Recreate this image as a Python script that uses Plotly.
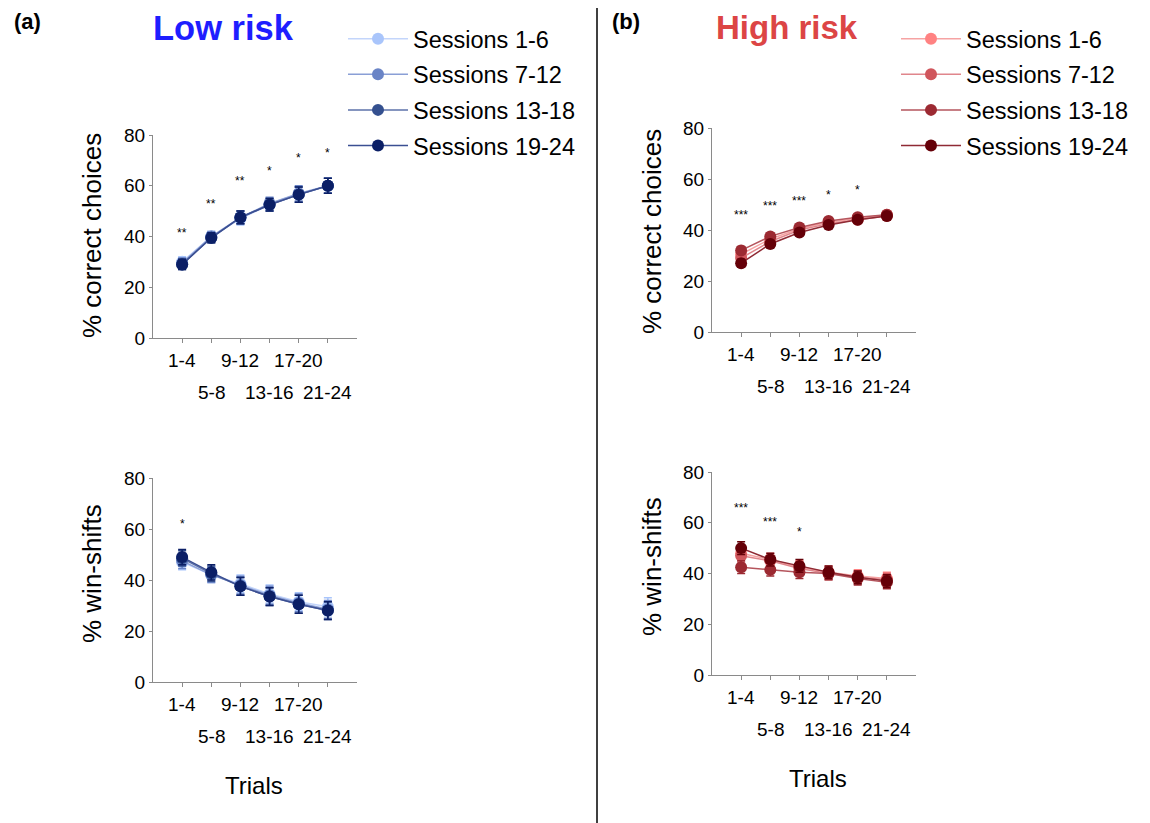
import plotly.graph_objects as go

W, H = 1150, 823

# ---------------- data ----------------
trial_labels = ["1-4", "5-8", "9-12", "13-16", "17-20", "21-24"]
session_names = ["Sessions 1-6", "Sessions 7-12", "Sessions 13-18", "Sessions 19-24"]

# (a) Low risk, % correct choices
low_correct = [
    [30, 40, 47, 52.5, 56.5, 60],
    [29.5, 40, 47.5, 53, 57, 60],
    [29, 39.5, 47.5, 52.5, 56.5, 60],
    [29, 39.5, 47.5, 52.5, 56.5, 60],
]
low_correct_err = [2, 2, 2.5, 2.5, 3, 3]
low_correct_stars = ["**", "**", "**", "*", "*", "*"]
low_correct_star_y = [42.5, 54, 63, 67, 72, 74]

# (b) High risk, % correct choices
high_correct = [
    [30.5, 36.5, 40.5, 43, 44.5, 46],
    [29, 35.5, 40, 42.5, 44, 45.5],
    [32, 37.5, 41, 43.5, 45, 46],
    [27, 34.5, 39, 42, 44, 45.5],
]
high_correct_err = [1.5, 1.2, 1, 1, 1, 1]
high_correct_stars = ["***", "***", "***", "*", "*"]
high_correct_star_y = [47, 50.5, 52.5, 55, 57]

# (c) Low risk, % win-shifts
low_ws = [
    [47, 42, 38.5, 34.5, 31.5, 29.5],
    [47.5, 42, 38, 34, 31, 28.5],
    [48.5, 42.5, 37.5, 33.5, 30.5, 28],
    [49, 43, 37.5, 33.5, 30.5, 28],
]
low_ws_err = [3, 3, 3.5, 3.5, 3.5, 3.5]
low_ws_stars = ["*"]
low_ws_star_y = [63]

# (d) High risk, % win-shifts
high_ws = [
    [48, 45.5, 42.5, 40.5, 39, 38],
    [47, 45, 42, 40, 38.5, 37.5],
    [42.5, 41.5, 40.5, 40, 38, 36.5],
    [50, 45.5, 43, 40.5, 38.5, 37],
]
high_ws_err = [2.5, 2.5, 2.5, 2.5, 2.5, 2.5]
high_ws_stars = ["***", "***", "*"]
high_ws_star_y = [67, 61.5, 57.5]

y_ticks = [0, 20, 40, 60, 80]

# ---------------- styles ----------------
FONT = "Liberation Sans, Arial, Helvetica, sans-serif"
blue_marker = ["#a9c5fb", "#6a84c6", "#34508f", "#0b1f66"]
blue_line = ["#c3d5fb", "#8a9fd6", "#5d72aa", "#3b4f92"]
red_marker = ["#ff8282", "#d0565c", "#9c2a32", "#650008"]
red_line = ["#f6a3a3", "#e0868c", "#b5555d", "#8f2a34"]

OFF = 8  # page body margin compensation

def px_x(px):
    return (px - OFF) / W

def px_y(py):
    return 1 - (py - OFF) / H

# panel geometry in pixels: (x_axis_left, x_axis_right, y_bottom(0), y_top(80))
panels = {
    "a": (153, 357, 338, 135),
    "b": (712, 916, 332, 128),
    "c": (153, 357, 682, 478),
    "d": (712, 916, 675, 472),
}
axis_ids = {"a": "", "b": "2", "c": "3", "d": "4"}

fig = go.Figure()
xcat = list(range(len(trial_labels)))

def add_series(panel, data, err, mcols, lcols, legend, show):
    ax = axis_ids[panel]
    for i, vals in enumerate(data):
        fig.add_trace(go.Scatter(
            x=xcat, y=vals, mode="lines+markers",
            name=session_names[i],
            legendgroup=f"{legend}{i}",
            legend=legend,
            showlegend=show,
            line=dict(color=lcols[i], width=1.5),
            marker=dict(color=mcols[i], size=12),
            error_y=dict(type="data", array=err, color=mcols[i], thickness=1.5, width=4),
            xaxis="x" + ax, yaxis="y" + ax,
            hoverinfo="skip",
        ))

add_series("a", low_correct, low_correct_err, blue_marker, blue_line, "legend", True)
add_series("c", low_ws, low_ws_err, blue_marker, blue_line, "legend", False)
add_series("b", high_correct, high_correct_err, red_marker, red_line, "legend2", True)
add_series("d", high_ws, high_ws_err, red_marker, red_line, "legend2", False)

layout = dict(
    width=W, height=H,
    margin=dict(l=0, r=0, t=0, b=0, pad=0, autoexpand=False),
    paper_bgcolor="white", plot_bgcolor="white",
    font=dict(family=FONT, color="black"),
    showlegend=True,
)

annotations = []
for p, (xl, xr, yb, yt) in panels.items():
    ax = axis_ids[p]
    layout["xaxis" + ax] = dict(
        domain=[px_x(xl), px_x(xr)], range=[-1, 6], anchor="y" + ax,
        tickvals=xcat, ticktext=[""] * len(xcat), showline=True, linecolor="#8a8a8a",
        linewidth=1, ticks="outside", ticklen=4, tickcolor="#8a8a8a",
        showgrid=False, zeroline=False, fixedrange=True, automargin=False,
    )
    layout["yaxis" + ax] = dict(
        domain=[px_y(yb), px_y(yt)], range=[0, 80], anchor="x" + ax,
        tickvals=y_ticks, showline=True, linecolor="#8a8a8a", linewidth=1,
        ticks="outside", ticklen=3, tickcolor="#8a8a8a",
        tickfont=dict(size=19, family=FONT), showgrid=False, zeroline=False,
        fixedrange=True, automargin=False,
    )
    # staggered category labels
    for i, lab in enumerate(trial_labels):
        row_off = 22 if i % 2 == 0 else 54
        annotations.append(dict(
            x=i, xref="x" + ax, y=px_y(yb + row_off), yref="paper",
            text=lab, showarrow=False, xanchor="center", yanchor="middle",
            font=dict(size=19, family=FONT),
        ))

def add_stars(panel, stars, ys):
    ax = axis_ids[panel]
    for i, (s, yv) in enumerate(zip(stars, ys)):
        annotations.append(dict(
            x=i, xref="x" + ax, y=yv, yref="y" + ax, text=s, showarrow=False,
            xanchor="center", yanchor="middle", yshift=-3,
            font=dict(size=12, family=FONT),
        ))

add_stars("a", low_correct_stars, low_correct_star_y)
add_stars("b", high_correct_stars, high_correct_star_y)
add_stars("c", low_ws_stars, low_ws_star_y)
add_stars("d", high_ws_stars, high_ws_star_y)

def txt(xp, yp, text, size, angle=0, bold=False, color="black"):
    annotations.append(dict(
        x=px_x(xp), y=px_y(yp), xref="paper", yref="paper",
        text=f"<b>{text}</b>" if bold else text, showarrow=False,
        xanchor="center", yanchor="middle", textangle=angle,
        font=dict(size=size, family=FONT, color=color),
    ))

# axis titles
txt(92, 236, "% correct choices", 26, -90)
txt(652, 232, "% correct choices", 26, -90)
txt(92, 574, "% win-shifts", 26, -90)
txt(652, 567, "% win-shifts", 26, -90)
txt(254, 785, "Trials", 24)
txt(818, 778, "Trials", 24)

# panel labels & titles
txt(27, 22, "(a)", 22, bold=True)
txt(626, 22, "(b)", 22, bold=True)
txt(223, 28, "Low risk", 34.5, bold=True, color="#1e1eff")
txt(787, 28, "High risk", 33, bold=True, color="#dc4545")

layout["annotations"] = annotations

for key, lx in (("legend", 343), ("legend2", 896)):
    layout[key] = dict(
        x=px_x(lx), y=px_y(17), xanchor="left", yanchor="top",
        font=dict(size=23.5, family=FONT), itemwidth=60, tracegroupgap=2,
        bgcolor="rgba(0,0,0,0)", traceorder="grouped",
    )

layout["shapes"] = [dict(
    type="line", xref="paper", yref="paper",
    x0=px_x(597), x1=px_x(597), y0=0, y1=px_y(8),
    line=dict(color="black", width=1.5),
)]

fig.update_layout(**layout)
fig.write_html("out.html")
